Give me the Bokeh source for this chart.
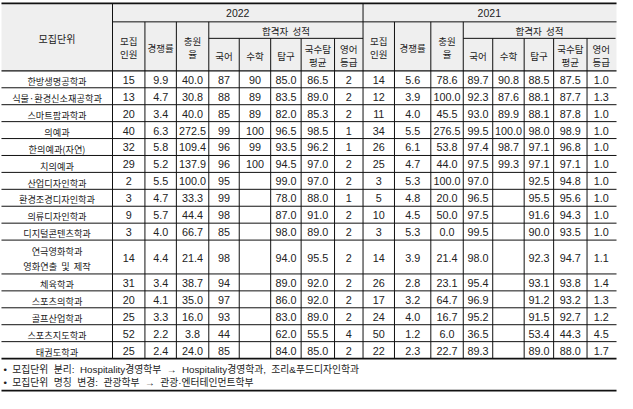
from bokeh.plotting import figure
from bokeh.models import Range1d
from bokeh.embed import file_html
from bokeh.resources import INLINE
from bokeh.core.properties import value

NB = "\u00a0"

# ---------------- data ----------------
units = ["한방생명공학과", "식물·환경신소재공학과", "스마트팜과학과", "의예과", "한의예과(자연)",
         "치의예과", "산업디자인학과", "환경조경디자인학과", "의류디자인학과", "디지털콘텐츠학과",
         "연극영화학과|영화연출" + NB + " 및" + NB + " 제작", "체육학과", "스포츠의학과", "골프산업학과",
         "스포츠지도학과", "태권도학과"]
row_span = [1, 1, 1, 1, 1, 1, 1, 1, 1, 1, 2, 1, 1, 1, 1, 1]

quota22 = [15, 13, 20, 40, 32, 29, 2, 3, 9, 3, 14, 31, 20, 25, 52, 25]
rate22 = [9.9, 4.7, 3.4, 6.3, 5.8, 5.2, 5.5, 4.7, 5.7, 4.0, 4.4, 3.4, 4.1, 3.3, 2.2, 2.4]
fill22 = [40.0, 30.8, 40.0, 272.5, 109.4, 137.9, 100.0, 33.3, 44.4, 66.7, 21.4, 38.7, 35.0, 16.0, 3.8, 24.0]
kor22 = [87, 88, 85, 99, 96, 96, 95, 99, 98, 85, 98, 94, 97, 93, 44, 85]
math22 = [90, 89, 89, 100, 99, 100, None, None, None, None, None, None, None, None, None, None]
inq22 = [85.0, 83.5, 82.0, 96.5, 93.5, 94.5, 99.0, 78.0, 87.0, 98.0, 94.0, 89.0, 86.0, 83.0, 62.0, 84.0]
avg22 = [86.5, 89.0, 85.3, 98.5, 96.2, 97.0, 97.0, 88.0, 91.0, 89.0, 95.5, 92.0, 92.0, 89.0, 55.5, 85.0]
eng22 = [2, 2, 2, 1, 1, 2, 2, 1, 2, 2, 2, 2, 2, 2, 4, 2]

quota21 = [14, 12, 11, 34, 26, 25, 3, 5, 10, 3, 14, 26, 17, 24, 50, 22]
rate21 = [5.6, 3.9, 4.0, 5.5, 6.1, 4.7, 5.3, 4.8, 4.5, 5.3, 3.9, 2.8, 3.2, 4.0, 1.2, 2.3]
fill21 = [78.6, 100.0, 45.5, 276.5, 53.8, 44.0, 100.0, 20.0, 50.0, 0.0, 21.4, 23.1, 64.7, 16.7, 6.0, 22.7]
kor21 = [89.7, 92.3, 93.0, 99.5, 97.4, 97.5, 97.0, 96.5, 97.5, 99.5, 98.0, 95.4, 96.9, 95.2, 36.5, 89.3]
math21 = [90.8, 87.6, 89.9, 100.0, 98.7, 99.3, None, None, None, None, None, None, None, None, None, None]
inq21 = [88.5, 88.1, 88.1, 98.0, 97.1, 97.1, 92.5, 95.5, 91.6, 90.0, 92.3, 93.1, 91.2, 91.5, 53.4, 89.0]
avg21 = [87.5, 87.7, 87.8, 98.9, 96.8, 97.1, 94.8, 95.6, 94.3, 93.5, 94.7, 93.8, 93.2, 92.7, 44.3, 88.0]
eng21 = [1.0, 1.3, 1.0, 1.0, 1.0, 1.0, 1.0, 1.0, 1.0, 1.0, 1.1, 1.4, 1.3, 1.2, 4.5, 1.7]

years = ["2022", "2021"]
group_label = "합격자" + NB + " 성적"
head_cols = ["모집|인원", "경쟁률", "충원|율", "국어", "수학", "탐구", "국수탐|평균", "영어|등급"]
head_unit = "모집단위"
notes = ["•" + NB + " 모집단위" + NB + " 분리:" + NB + " Hospitality경영학부" + NB + " →" + NB +
         " Hospitality경영학과," + NB + " 조리&푸드디자인학과",
         "•" + NB + " 모집단위" + NB + " 명칭" + NB + " 변경:" + NB + " 관광학부" + NB + " →" + NB +
         " 관광·엔터테인먼트학부"]

cols22 = [(quota22, "{:d}"), (rate22, "{:.1f}"), (fill22, "{:.1f}"), (kor22, "{:d}"),
          (math22, "{:d}"), (inq22, "{:.1f}"), (avg22, "{:.1f}"), (eng22, "{:d}")]
cols21 = [(quota21, "{:d}"), (rate21, "{:.1f}"), (fill21, "{:.1f}"), (kor21, "{:.1f}"),
          (math21, "{:.1f}"), (inq21, "{:.1f}"), (avg21, "{:.1f}"), (eng21, "{:.1f}")]

# ---------------- layout ----------------
XL, XR = 2, 628
xe = [115, 148, 180, 213, 244, 276, 307, 341, 370, 402, 439, 472, 502, 534, 564, 598, 627]
Y_TOP, Y_YEAR, Y_GRP, Y_HEAD, Y_BOT, Y_FOOT = 4, 23, 40, 73.5, 370, 403
unit_h = (Y_BOT - Y_HEAD) / sum(row_span)

FONT = value("Liberation Sans, Arial, 'Noto Sans CJK KR'")
KFONT = value("'Noto Sans CJK KR'")
TXT = "#222222"
LINE = "#111111"
KOFF = 1.2  # vertical optical offset for CJK text

p = figure(width=617, height=393, output_backend="svg", toolbar_location=None,
           x_range=Range1d(1, 629), y_range=Range1d(406, 1), min_border=0,
           background_fill_color="white", border_fill_color="white")
p.axis.visible = False
p.grid.visible = False
p.outline_line_color = None

# header background
p.quad(left=[XL], right=[XR], top=[Y_TOP], bottom=[Y_HEAD], fill_color="#efefef", line_color=None)

# row boundaries
bounds = [Y_HEAD]
for s in row_span:
    bounds.append(bounds[-1] + s * unit_h)

# horizontal lines
thin_x0, thin_x1, thin_y = [], [], []
for b in bounds[1:-1]:
    thin_x0.append(XL); thin_x1.append(XR); thin_y.append(b)
thin_x0 += [xe[0], xe[3], xe[11]]
thin_x1 += [XR, xe[8], xe[16]]
thin_y += [Y_YEAR, Y_GRP, Y_GRP]
p.segment(x0=thin_x0, x1=thin_x1, y0=thin_y, y1=thin_y, line_color=LINE, line_width=1)
p.segment(x0=[XL], x1=[XR], y0=[Y_HEAD], y1=[Y_HEAD], line_color=LINE, line_width=1.4)
p.segment(x0=[XL, XL, XL], x1=[XR, XR, XR], y0=[Y_TOP, Y_BOT, Y_FOOT], y1=[Y_TOP, Y_BOT, Y_FOOT],
          line_color=LINE, line_width=1.8)

# vertical lines
vx, vy0 = [], []
for i, x in enumerate(xe[:-1]):
    k = i % 8
    if k == 0:
        top = Y_TOP
    elif k in (1, 2, 3):
        top = Y_YEAR
    else:
        top = Y_GRP
    vx.append(x); vy0.append(top)
p.segment(x0=vx, x1=vx, y0=vy0, y1=[Y_BOT] * len(vx), line_color=LINE, line_width=1)

def put(xs, ys, texts, size, font=FONT, align="center"):
    p.text(x=xs, y=ys, text=texts, text_font=font, text_font_size=size, text_color=TXT,
           text_align=align, text_baseline="middle")

def put_multi(xc, yc, label, size, gap, font=FONT):
    parts = label.split("|")
    n = len(parts)
    xs, ys = [], []
    for j, part in enumerate(parts):
        xs.append(xc)
        ys.append(yc + (j - (n - 1) / 2) * gap)
    put(xs, ys, parts, size, font)

# header text
put_multi((XL + xe[0]) / 2, (Y_TOP + Y_HEAD) / 2 + KOFF, head_unit, "10px", 13, KFONT)
for yi, yr in enumerate(years):
    a = xe[8 * yi]; b = xe[8 * yi + 8]
    put([(a + b) / 2], [(Y_TOP + Y_YEAR) / 2 + 0.5], [yr], "10.5px")
    put([(xe[8 * yi + 3] + b) / 2], [(Y_YEAR + Y_GRP) / 2 + KOFF], [group_label], "9.5px", KFONT)
    for k, lab in enumerate(head_cols):
        xc = (xe[8 * yi + k] + xe[8 * yi + k + 1]) / 2
        yc = (Y_YEAR + Y_HEAD) / 2 if k < 3 else (Y_GRP + Y_HEAD) / 2
        put_multi(xc, yc + KOFF, lab, "9.5px", 13, KFONT)

# data
for r, name in enumerate(units):
    yc = (bounds[r] + bounds[r + 1]) / 2 + 0.5
    put_multi((XL + xe[0]) / 2, yc + KOFF, name, "9.2px", 15.5, KFONT)
    for yi, cols in enumerate([cols22, cols21]):
        xs, ys, ts = [], [], []
        for k, (arr, fmt) in enumerate(cols):
            v = arr[r]
            if v is None:
                continue
            xs.append((xe[8 * yi + k] + xe[8 * yi + k + 1]) / 2)
            ys.append(yc)
            ts.append(fmt.format(v))
        put(xs, ys, ts, "10.8px")

# notes
put([4, 4], [381.5, 395], notes, "9.8px", FONT, align="left")

open("out.html", "w").write(file_html(p, INLINE))
